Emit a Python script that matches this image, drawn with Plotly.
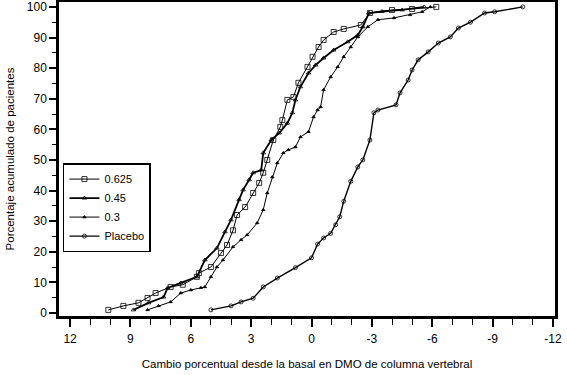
import plotly.graph_objects as go

# 0.625 mg
x_0625 = [10.1, 9.35, 8.6, 8.15, 7.75, 7.0, 6.4, 5.7, 5.6, 5.0, 4.5, 4.2, 3.9, 3.7, 3.3, 2.9, 2.6, 2.4, 2.2,
          1.9, 1.55, 1.45, 1.2, 0.9, 0.65, 0.2, -0.05, -0.35, -0.6, -1.1, -1.6, -2.45, -2.9, -4.0, -5.0, -6.2]
y_0625 = [1, 2.3, 3.3, 4.9, 6.5, 8.5, 9.2, 11.8, 13, 15, 19.6, 22.2, 27, 32, 34.6, 39.2, 42.5, 45.8, 50,
          56.5, 60.8, 63, 69.6, 70.6, 75.2, 80.4, 83.7, 86.9, 89.2, 91.8, 92.8, 94.1, 98, 99, 99.3, 100]

# 0.45 mg
x_045 = [8.85, 8.1, 7.35, 7.15, 6.5, 5.7, 5.3, 4.7, 4.3, 4.0, 3.6, 3.4, 3.1, 2.9, 2.5, 2.4, 2.0, 1.6, 1.2,
         0.95, 0.8, 0.55, 0.15, -0.2, -0.6, -1.1, -1.8, -2.3, -2.55, -2.85, -3.5, -4.5, -5.6]
y_045 = [1, 3.3, 5.2, 8.2, 9.8, 11.8, 17.3, 21.2, 26.5, 30.4, 37, 40.2, 43.5, 45.8, 46.7, 52.3, 56.5, 58.8, 62,
         65.4, 69.6, 73.9, 78.4, 81, 83.3, 85.9, 88.6, 90.8, 93.5, 98, 98.5, 99, 100]

# 0.3 mg
x_03 = [8.15, 7.6, 7.0, 6.5, 6.0, 5.5, 5.3, 5.0, 4.7, 4.4, 3.9, 3.5, 3.2, 2.7, 2.4, 2.2, 1.95, 1.7, 1.4, 1.15,
        0.8, 0.55, 0.15, -0.1, -0.3, -0.45, -0.6, -0.95, -1.3, -1.6, -1.95, -2.3, -2.8, -3.3, -4.1, -4.9, -5.5, -5.9]
y_03 = [1, 2.3, 3.6, 6.5, 7.5, 8.2, 8.5, 11.8, 15, 17.3, 21.6, 23.9, 25.5, 29.4, 33.7, 39.2, 44.4, 49, 52.3, 53.3,
        54.2, 57.5, 59.2, 64, 66.3, 67.3, 72.9, 77.1, 80.4, 83.7, 86.9, 90.2, 93.5, 95.8, 96.4, 97.4, 98.4, 100]

# Placebo
x_pl = [5.0, 4.0, 3.5, 2.9, 2.4, 1.7, 0.8, 0.0, -0.3, -0.6, -0.95, -1.2, -1.4, -1.6, -1.95, -2.3, -2.55, -2.9,
        -3.1, -3.3, -4.2, -4.4, -4.8, -5.0, -5.3, -5.8, -6.3, -6.9, -7.3, -7.9, -8.6, -9.1, -10.5]
y_pl = [1, 2.3, 3.6, 4.8, 8.5, 11.4, 14.8, 18, 22.5, 24.5, 26, 28.8, 31.4, 36.5, 43, 47.7, 50, 56.5,
        65.4, 66.3, 68, 71.9, 76.1, 79.4, 82.7, 85.3, 88.2, 90.2, 93.1, 95, 98, 98.4, 100]

x_ticks = [12, 9, 6, 3, 0, -3, -6, -9, -12]
x_ticklabels = ["12", "9", "6", "3", "0", "-3", "-6", "-9", "-12"]
y_ticks = [0, 10, 20, 30, 40, 50, 60, 70, 80, 90, 100]

FONT = "Liberation Sans, Arial, sans-serif"

fig = go.Figure()
series = [
    ("0.625", x_0625, y_0625, "square-open", 5, 1.0),
    ("0.45", x_045, y_045, "triangle-up-open", 4, 1.8),
    ("0.3", x_03, y_03, "triangle-up", 3, 1.0),
    ("Placebo", x_pl, y_pl, "circle-open", 4, 1.4),
]
for name, xs, ys, sym, ms, lw in series:
    fig.add_trace(go.Scatter(
        x=xs, y=ys, name=name, mode="lines+markers",
        line=dict(color="black", width=lw),
        marker=dict(symbol=sym, size=ms, color="black", line=dict(color="black", width=0.8)),
    ))

fig.update_layout(
    width=567, height=375,
    margin=dict(l=59, r=12, t=2, b=59, autoexpand=False),
    paper_bgcolor="white", plot_bgcolor="white",
    font=dict(family=FONT, size=12, color="black"),
    showlegend=True,
    legend=dict(
        x=0.008, y=0.487, xanchor="left", yanchor="top",
        bgcolor="white", bordercolor="black", borderwidth=1.5,
        font=dict(size=11), itemwidth=30, tracegroupgap=0,
    ),
)
fig.update_xaxes(
    range=[12.55, -12.1], tickmode="array", tickvals=x_ticks, ticktext=x_ticklabels,
    ticks="outside", ticklen=8, tickwidth=1.5, tickcolor="black", ticklabelstandoff=2,
    minor=dict(dtick=1, ticks="outside", ticklen=6, tickwidth=1.2, tickcolor="black", showgrid=False),
    showline=True, linecolor="black", linewidth=2.5, mirror=True,
    showgrid=False, zeroline=False, automargin=False,
    tickfont=dict(size=12),
    title=dict(text="Cambio porcentual desde la basal en DMO de columna vertebral",
               font=dict(size=11.5), standoff=15),
)
fig.update_yaxes(
    range=[-1, 101.6], tickmode="array", tickvals=y_ticks,
    ticks="outside", ticklen=7, tickwidth=1.5, tickcolor="black",
    minor=dict(dtick=5, ticks="outside", ticklen=4, tickwidth=1.2, tickcolor="black", showgrid=False),
    showline=True, linecolor="black", linewidth=2.5, mirror=True,
    showgrid=False, zeroline=False, automargin=False,
    tickfont=dict(size=12),
    title=dict(text="Porcentaje acumulado de pacientes", font=dict(size=11.5), standoff=10),
)

fig.write_html("out.html", config={"displayModeBar": False},
               post_script="document.body.style.margin='0';")
